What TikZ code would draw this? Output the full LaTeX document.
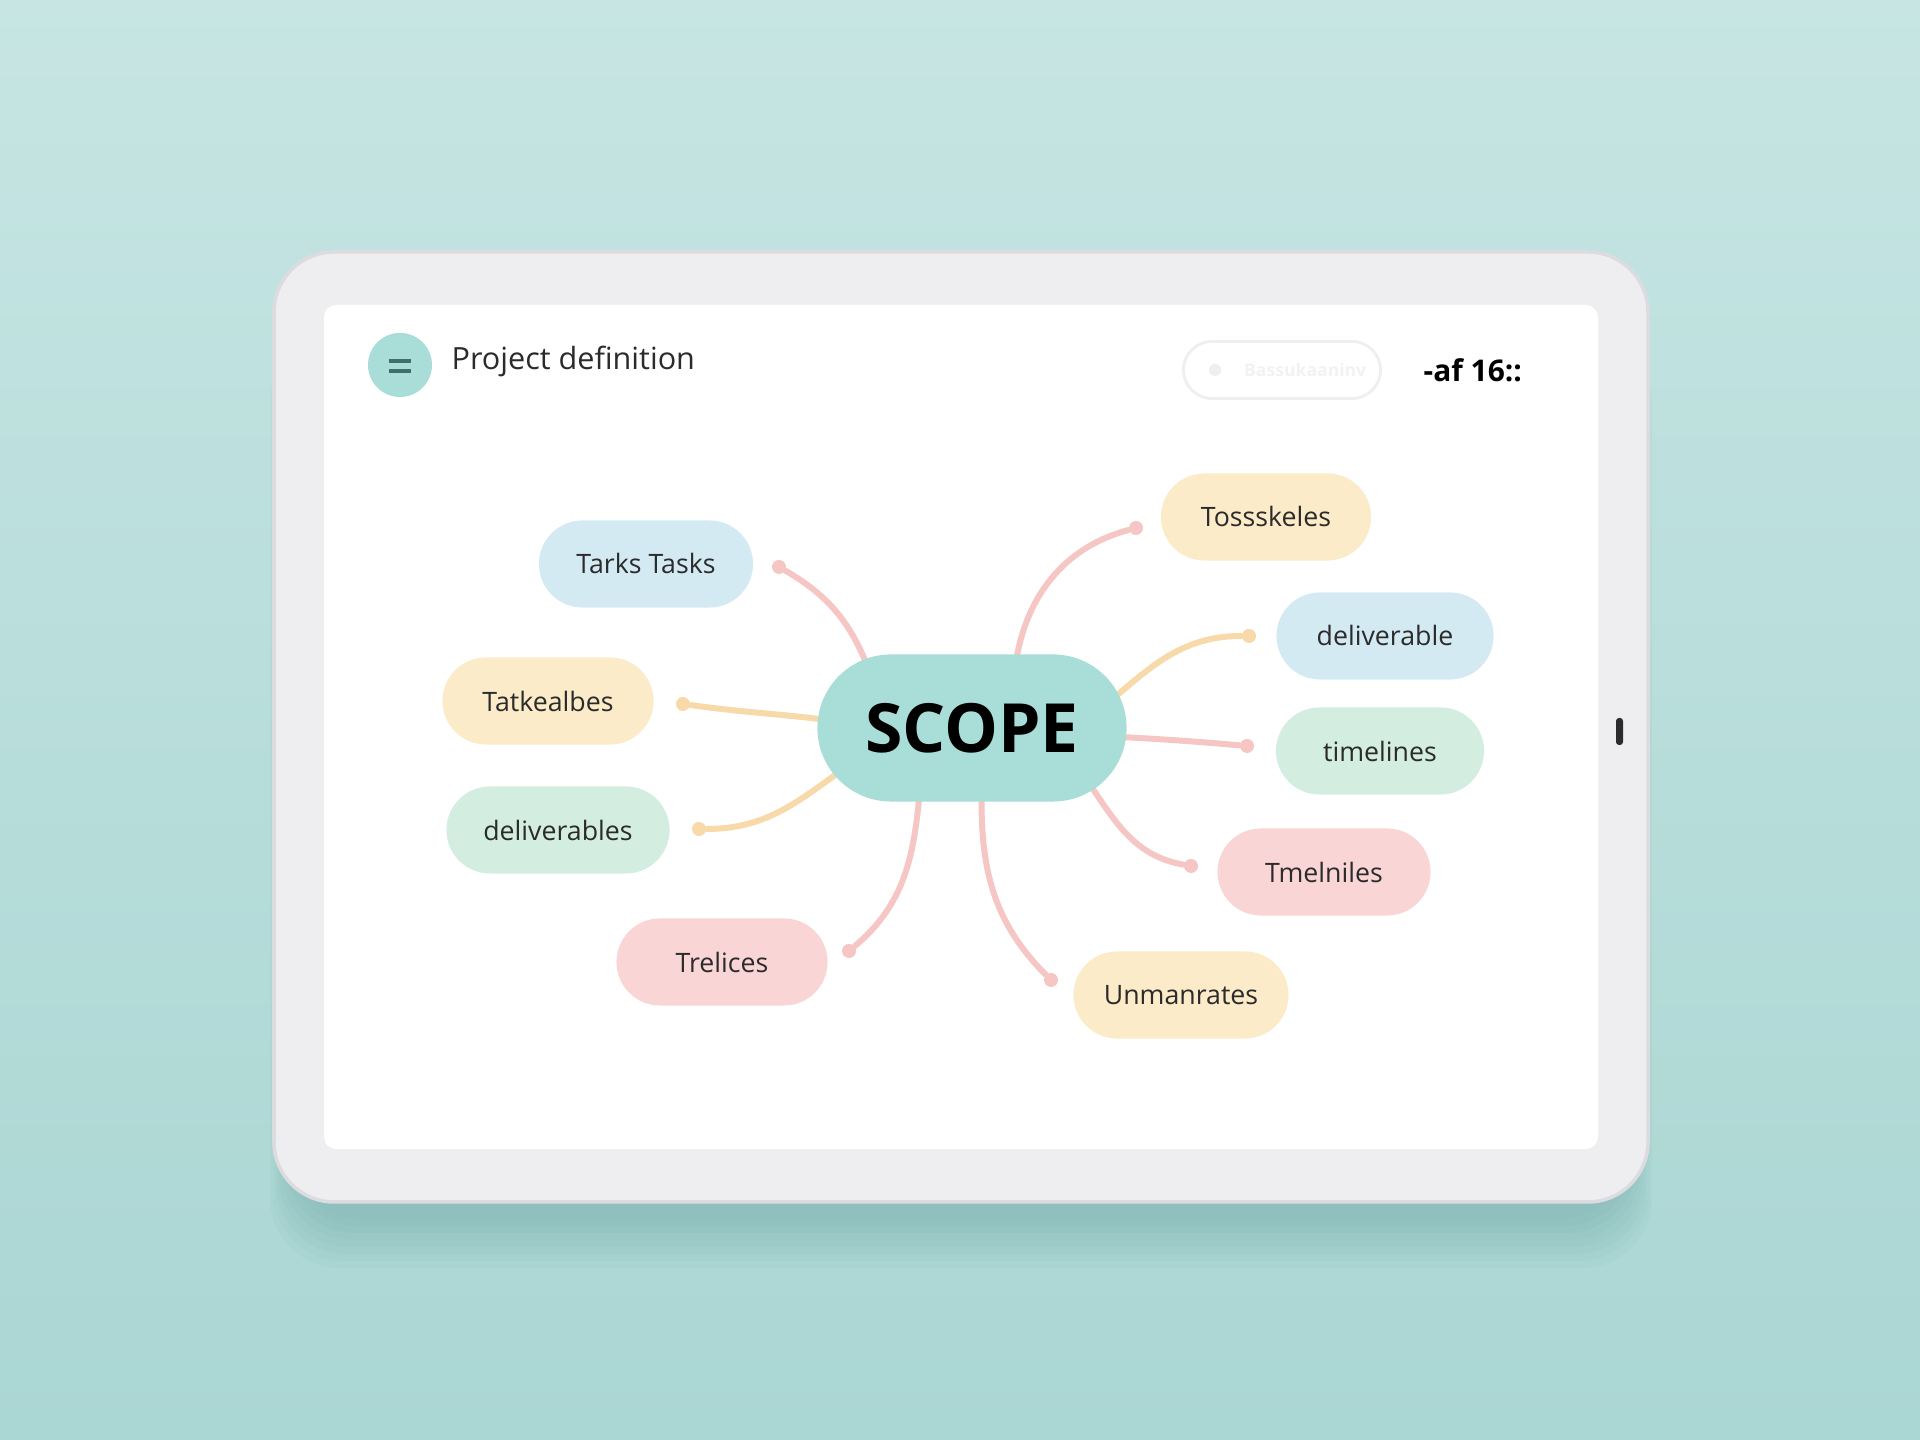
\documentclass[tikz,border=0pt]{standalone}
\usepackage{fontspec}
\setmainfont{Open Sans}
\usetikzlibrary{positioning,calc}

\definecolor{bgtop}{HTML}{C6E5E3}
\definecolor{bgbot}{HTML}{AAD6D3}
\definecolor{shadowc}{HTML}{5E9C98}
\definecolor{bezel}{HTML}{EEEEF0}
\definecolor{bezeledge}{HTML}{DCDCE0}
\definecolor{hubfill}{HTML}{A9DDD7}
\definecolor{menuline}{HTML}{3F6F6A}
\definecolor{pblue}{HTML}{D4EAF3}
\definecolor{pyellow}{HTML}{FCEBC9}
\definecolor{pgreen}{HTML}{D4EDE1}
\definecolor{ppink}{HTML}{FAD5D5}
\definecolor{lpink}{HTML}{F5C6C4}
\definecolor{lyellow}{HTML}{F8D9A9}
\definecolor{ink}{HTML}{2B2B2B}
\definecolor{faint}{HTML}{EFEFEF}

\pgfdeclarelayer{device}
\pgfdeclarelayer{links}
\pgfsetlayers{device,links,main}

\begin{document}
\begin{tikzpicture}
  [
    x=0.01cm, y=0.01cm,
    hub/.style  = {fill=hubfill, rounded corners=0.735cm, minimum width=3.09cm, minimum height=1.47cm, inner sep=0pt, font=\fontsize{19.3}{22}\selectfont\bfseries},
    leaf/.style = {rounded corners=0.435cm, minimum height=0.87cm, inner sep=0pt, text=ink, font=\fontsize{7.6}{9}\selectfont},
    knob/.style = {circle, inner sep=0pt, minimum size=0.14cm},
    link/.style = {line width=1.7pt, line cap=round},
  ]

%Corners of the tablet
\def \xmin{274}
\def \xmax{1648}
\def \ymin{238}
\def \ymax{1188}

\useasboundingbox (0,0) rectangle (1920,1440);

%Backdrop, shadow and tablet body
\begin{pgfonlayer}{device}
\shade[top color=bgtop, bottom color=bgbot] (0,0) rectangle (1920,1440);
\foreach \s in {1,...,8}
{
\fill[shadowc, opacity=0.05, rounded corners=0.7cm] (\xmin+20-\s*3, \ymin-10-\s*7) rectangle (\xmax-20+\s*3, \ymax-80);
}
\draw[bezeledge, fill=bezel, line width=1pt, rounded corners=0.6cm] (\xmin,\ymin) rectangle (\xmax,\ymax);
\fill[white, rounded corners=0.12cm] (324,291) rectangle (1598,1135);
\fill[ink, rounded corners=0.03cm] (1616,695) rectangle (1623,722);
\end{pgfonlayer}

%Header bar
\node[circle, fill=hubfill, minimum size=0.64cm, inner sep=0pt] (menu) at (400,1075) {};
\draw[menuline, line width=1.1pt] ($(menu.center)+(-11,4)$) -- ++(22,0);
\draw[menuline, line width=1.1pt] ($(menu.center)+(-11,-6)$) -- ++(22,0);
\node[anchor=base west, inner sep=0pt, text=ink, font=\fontsize{8.7}{10}\selectfont] (title) at (451,1070) {Project definition};

\node[draw=faint, line width=0.8pt, rounded corners=0.285cm, minimum width=1.97cm, minimum height=0.57cm] (search) at (1282,1070) {};
\node[circle, fill=faint, minimum size=0.12cm, inner sep=0pt] (searchdot) at (1215,1070) {};
\node[right=0.1cm of searchdot, text=faint!80, font=\fontsize{5}{6}\selectfont\bfseries] (searchtext) {Bassukaaninv};
\node[anchor=west, inner sep=0pt, font=\fontsize{8.5}{10}\selectfont\bfseries] (clock) at (1423,1070) {-af 16::};

%Centre of the map
\node[hub] (hub) at (972,712) {SCOPE};

%Branch labels
\foreach \id/\cx/\cy/\w/\col/\txt in
{tasks/646/876/2.14/pblue/{Tarks Tasks},
  toss/1266/923/2.10/pyellow/{Tossskeles},
  tatk/548/739/2.11/pyellow/{Tatkealbes},
  delivs/558/610/2.23/pgreen/{deliverables},
  trel/722/478/2.11/ppink/{Trelices},
  deliv/1385/804/2.17/pblue/{deliverable},
  timel/1380/689/2.08/pgreen/{timelines},
  tmel/1324/568/2.13/ppink/{Tmelniles},
  unman/1181/445/2.15/pyellow/{Unmanrates}}
{
\node[leaf, fill=\col, minimum width=\w cm] (\id) at (\cx,\cy) {\txt};
}

%End dots of the branches
\foreach \id/\dx/\dy/\col in
{k1/779/873/lpink, k2/1136/912/lpink, k3/683/736/lyellow,
  k4/699/611/lyellow, k5/849/489/lpink, k6/1249/804/lyellow,
  k7/1247/694/lpink, k8/1191/574/lpink, k9/1051/460/lpink}
{
\node[knob, fill=\col] (\id) at (\dx,\dy) {};
}

%Branches, drawn under the centre node
\begin{pgfonlayer}{links}
\foreach \k/\ox/\oy/\out/\in/\col in
{k1/-100/50/110/-30/lpink,
  k2/42/50/85/195/lpink,
  k3/-130/6/172/-8/lyellow,
  k4/-120/-35/215/0/lyellow,
  k5/-51/-50/-95/40/lpink,
  k6/130/20/40/180/lyellow,
  k7/130/-8/-3/175/lpink,
  k8/110/-45/-55/170/lpink,
  k9/10/-50/-92/135/lpink}
{
\draw[link, draw=\col] ($(hub.center)+(\ox,\oy)$) to[out=\out, in=\in] (\k);
}
\end{pgfonlayer}
\end{tikzpicture}
\end{document}
